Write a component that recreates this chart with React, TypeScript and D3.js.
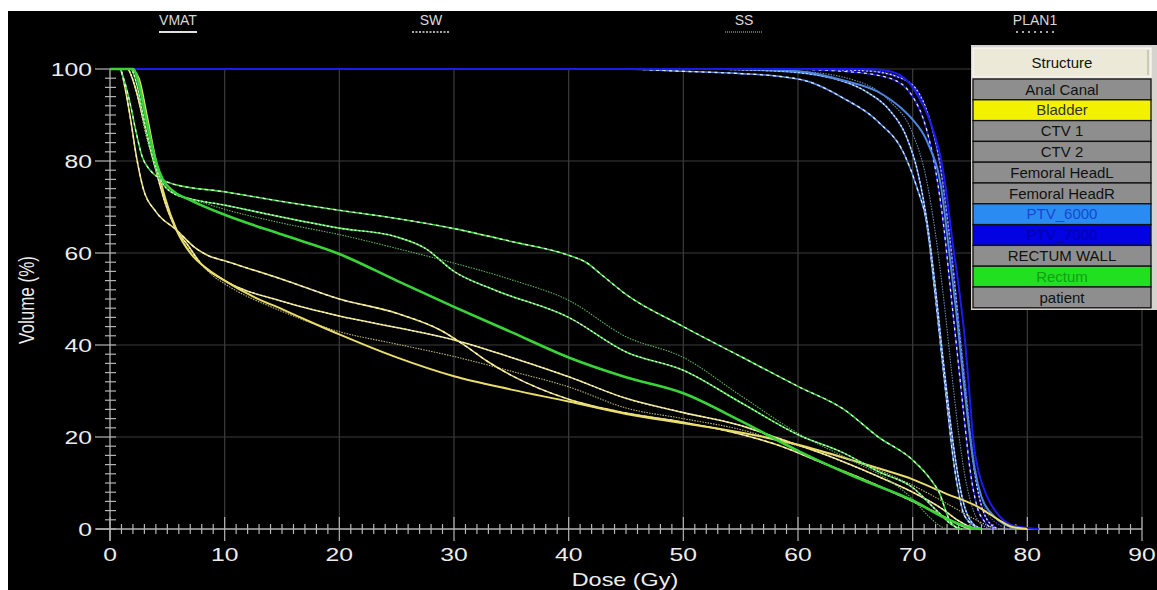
import React from 'react';
import * as d3 from 'd3';

// axis ticks
const doseTicks = [0, 10, 20, 30, 40, 50, 60, 70, 80, 90];
const volumeTicks = [0, 20, 40, 60, 80, 100];

// plans shown in the header
const plans = ['VMAT', 'SW', 'SS', 'PLAN1'];

// structure table rows
const structureRows = [
  'Anal Canal', 'Bladder', 'CTV 1', 'CTV 2', 'Femoral HeadL', 'Femoral HeadR',
  'PTV_6000', 'PTV_7000', 'RECTUM WALL', 'Rectum', 'patient',
];

// DVH curves, [dose Gy, volume %]
const bladderVmat = [[0, 100], [1.8, 100], [2.5, 98], [3.2, 90], [4, 80], [4.8, 72], [5.8, 65], [7, 60], [8.5, 56.5], [10, 54], [12.5, 50.5], [15, 47.8], [17.5, 45], [20, 42.3], [25, 37.3], [30, 33.2], [35, 30.3], [40, 27.7], [45, 25], [50, 23], [55, 21], [60, 18.3], [64, 15.5], [67, 13.2], [70, 10.8], [72.8, 7.8], [75.7, 4.8], [77.5, 2], [78.5, 0.6], [80, 0]];
const bladderSw = [[0, 100], [1.5, 100], [2.2, 96], [3, 88], [3.8, 80], [4.8, 71], [5.8, 65], [6.7, 62], [8, 57.5], [10, 54], [15, 49.5], [20, 46.3], [25, 43.8], [30, 41.1], [35, 37.3], [40, 33.1], [45, 28.4], [50, 25.3], [55, 22.5], [58.3, 19.7], [62, 16.5], [67, 11.4], [70, 8], [72.5, 4.5], [74, 1.8], [75.2, 0.3], [76, 0]];
const bladderSs = [[0, 100], [1.5, 100], [2.3, 95], [3.1, 86], [4, 78], [5, 70], [6, 64], [7.5, 59], [9, 55], [10, 53.3], [15, 47.3], [20, 42.9], [25, 40.2], [30, 37.5], [35, 34.3], [40, 30.9], [45, 26.3], [50, 24], [55, 21.6], [58.3, 19.2], [62, 16.8], [67, 12.8], [70, 9.5], [73, 5.5], [75, 2.7], [76.5, 0.8], [77.5, 0]];
const bladderPlan1 = [[0, 100], [0.9, 100], [1.3, 96], [1.8, 89], [2.3, 81], [2.9, 74], [4, 69], [5.8, 65], [7.5, 61], [8.5, 59.5], [10, 58.3], [15, 54.3], [20, 50], [25, 46.9], [29, 43], [31, 39.8], [33, 36.3], [35, 33.4], [40, 28.2], [45, 25.2], [50, 23.2], [55, 20.6], [58.3, 18.2], [62, 14.5], [66, 10.5], [70, 6], [72.5, 3], [74, 1], [75, 0]];

const rectumVmat = [[0, 100], [2, 100], [2.5, 97], [3, 91], [3.5, 85], [4, 80], [4.6, 76], [5.5, 73.5], [7, 71.5], [10, 68.3], [15, 64], [20, 59.8], [25, 54], [30, 48.3], [35, 42.8], [40, 37.3], [45, 33], [50, 29.5], [55, 23.5], [60, 17], [65, 11.3], [70, 6.2], [73, 2.2], [75, 0.3], [76, 0]];
const rectumSw = [[0, 100], [1.8, 100], [2.3, 97], [2.8, 91], [3.3, 85], [3.8, 80], [4.4, 76], [5.5, 73], [7, 71.8], [10, 70.4], [15, 67.8], [20, 65.4], [25, 63.5], [27.5, 61], [30, 56], [33.5, 52], [40, 46], [45, 38.5], [50, 34.5], [55, 27.5], [60, 20.5], [64, 16.5], [67, 12.5], [70, 9], [72.3, 3.5], [73.5, 0.8], [74.3, 0]];
const rectumSs = [[0, 100], [1.8, 100], [2.3, 97], [2.9, 90], [3.4, 84], [4, 78], [4.8, 74.5], [6, 72.5], [8, 71], [10, 69.5], [15, 66.5], [20, 64], [25, 61], [30, 57.8], [35, 54.2], [40, 49.7], [45, 41.8], [50, 37.3], [55, 29], [60, 20.8], [65, 14.5], [68, 10.5], [70, 6.5], [71.5, 2.5], [72.5, 0.5], [73, 0]];
const rectumPlan1 = [[0, 100], [0.8, 100], [1.3, 97], [1.8, 92], [2.3, 86], [2.8, 81], [3.5, 78], [4.5, 76], [5.5, 75], [10, 73.3], [15, 71.2], [20, 69.3], [25, 67.5], [30, 65.3], [35, 62.5], [40, 59.5], [41.5, 58], [43, 55], [45, 51], [50, 44], [55, 37.5], [60, 31], [64, 26], [67, 20], [70, 15], [71.5, 11], [72.3, 8], [73.2, 2], [74, 0]];

const ptv6000Vmat = [[0, 100], [55, 100], [60, 99.5], [64, 97.5], [67, 95], [69, 91.5], [70, 89], [71.3, 84], [72.5, 74], [73.2, 60], [73.9, 45], [74.4, 33], [74.9, 22], [75.4, 13], [76, 7], [77, 3], [78, 1], [79.5, 0]];
const ptv6000Sw = [[0, 100], [50, 100], [58, 99.6], [63, 98], [66, 95], [68, 91], [69.5, 85], [70.5, 77], [71.3, 66], [72, 52], [72.6, 38], [73.2, 25], [73.8, 14], [74.4, 6], [75, 2], [76, 0]];
const ptv6000Ss = [[0, 100], [52, 100], [60, 99.5], [65, 97.5], [68, 93], [70, 86], [71.2, 76], [72, 64], [72.8, 48], [73.4, 34], [74, 21], [74.6, 11], [75.3, 4], [76, 1], [77, 0]];
const ptv6000Plan1 = [[0, 100], [44, 100], [50, 99.5], [55, 99], [58, 98.5], [61, 97.2], [64, 93.6], [67, 88.5], [69.3, 81.3], [70.4, 74], [71.2, 66.8], [71.9, 52.3], [72.5, 38.5], [73, 27], [73.5, 16], [74, 8], [74.5, 3], [75.5, 0.5], [76, 0]];

const ptv7000Vmat = [[0, 100], [66, 100], [68, 99.5], [69.5, 97.5], [70.5, 94], [71.3, 90], [72, 85], [72.5, 80], [73, 72], [73.5, 62], [74, 53], [74.6, 40], [75, 28], [75.3, 19], [75.8, 12], [76.5, 7], [77.5, 3], [78.5, 1], [80, 0.2], [81, 0]];
const ptv7000Sw = [[0, 100], [60, 100], [66, 99.6], [69, 98], [70.6, 94.5], [71.6, 88], [72.4, 79], [73, 68], [73.6, 55], [74.1, 42], [74.7, 28], [75.2, 16], [75.8, 7], [76.5, 2], [77.5, 0]];
const ptv7000Ss = [[0, 100], [62, 100], [67, 99.5], [69.7, 97], [71, 92], [72, 84], [72.8, 72], [73.4, 60], [74, 46], [74.6, 32], [75.1, 20], [75.7, 10], [76.4, 4], [77.5, 1], [78.5, 0]];
const ptv7000Plan1 = [[0, 100], [58, 100], [64, 99.5], [68, 98], [70, 94], [71.2, 87], [72, 78], [72.7, 66], [73.3, 52], [73.9, 38], [74.5, 24], [75, 13], [75.6, 5], [76.3, 1.5], [77, 0]];

const series = [
  { structure: 'PTV_6000', plan: 'PLAN1', values: ptv6000Plan1 },
  { structure: 'PTV_6000', plan: 'SW', values: ptv6000Sw },
  { structure: 'PTV_6000', plan: 'SS', values: ptv6000Ss },
  { structure: 'PTV_7000', plan: 'PLAN1', values: ptv7000Plan1 },
  { structure: 'PTV_7000', plan: 'SW', values: ptv7000Sw },
  { structure: 'PTV_7000', plan: 'SS', values: ptv7000Ss },
  { structure: 'PTV_6000', plan: 'VMAT', values: ptv6000Vmat },
  { structure: 'PTV_7000', plan: 'VMAT', values: ptv7000Vmat },
  { structure: 'Bladder', plan: 'SS', values: bladderSs },
  { structure: 'Bladder', plan: 'SW', values: bladderSw },
  { structure: 'Bladder', plan: 'PLAN1', values: bladderPlan1 },
  { structure: 'Bladder', plan: 'VMAT', values: bladderVmat },
  { structure: 'Rectum', plan: 'SS', values: rectumSs },
  { structure: 'Rectum', plan: 'SW', values: rectumSw },
  { structure: 'Rectum', plan: 'PLAN1', values: rectumPlan1 },
  { structure: 'Rectum', plan: 'VMAT', values: rectumVmat },
];

// look of things
const lineColor: Record<string, string> = {
  Bladder: '#e8dc6a',
  Rectum: '#3ad43a',
  PTV_6000: '#4f86e0',
  PTV_7000: '#1c1ce8',
};
const rowFill: Record<string, string> = {
  Bladder: '#f2f200',
  PTV_6000: '#2a8cf2',
  PTV_7000: '#0202e2',
  Rectum: '#20e020',
};
const rowText: Record<string, string> = {
  Bladder: '#333',
  PTV_6000: '#1848d0',
  PTV_7000: '#0000b0',
  Rectum: '#12a012',
};
const planLabelX = [178, 431, 744, 1035];
const font = 'Liberation Sans, Arial, sans-serif';
// the screenshot is a bit wider than tall, so axis text is stretched
const stretch = 1.3;

export default function App() {
  const x = d3.scaleLinear().domain([0, 90]).range([110, 1142]);
  const y = d3.scaleLinear().domain([0, 100]).range([529, 69]);

  const line = d3
    .line<number[]>()
    .x((d) => x(d[0]))
    .y((d) => y(d[1]))
    .curve(d3.curveMonotoneX);

  const minorDose = d3.range(0, 91, 1);
  const minorVol = d3.range(0, 101, 2);

  const drawCurve = (s: any, i: number) => {
    const c = lineColor[s.structure];
    const d = line(s.values) || '';
    if (s.plan === 'VMAT') {
      return (
        <path key={i} d={d} fill="none" stroke={c}
          strokeWidth={s.structure === 'Rectum' ? 2.6 : 2} />
      );
    }
    if (s.plan === 'SS') {
      const g = d3.interpolateRgb(c, '#8a8a8a')(0.45);
      return (
        <path key={i} d={d} fill="none" stroke={g} strokeWidth={1.1}
          strokeDasharray="1.5 1.2" />
      );
    }
    const dash = s.plan === 'SW' ? '2 2' : '3 3.5';
    return (
      <g key={i}>
        <path d={d} fill="none" stroke={c} strokeWidth={1.6} />
        <path d={d} fill="none" stroke="#f6f6f6" strokeWidth={1.3}
          strokeDasharray={dash} opacity={0.9} />
      </g>
    );
  };

  const rowY0 = 79;
  const rowH = 20.8;

  return (
    <svg width={1157} height={590}
      style={{ position: 'absolute', left: 0, top: 0, fontFamily: font }}>
      <rect x={0} y={0} width={1157} height={590} fill="#fff" />
      <rect x={8} y={11} width={1149} height={579} fill="#000" />

      {/* plan header */}
      {plans.map((p, i) => (
        <g key={p}>
          <text x={planLabelX[i]} y={25} fill="#d8d8d8" fontSize={14}
            textAnchor="middle">{p}</text>
          <line x1={planLabelX[i] - 19} x2={planLabelX[i] + 19} y1={32} y2={32}
            stroke={i === 2 ? '#888' : '#e0e0e0'}
            strokeWidth={i === 0 ? 2 : 1.5}
            strokeDasharray={i === 0 ? undefined : i === 1 ? '2 1.5' : i === 2 ? '1 1' : '2 4'} />
        </g>
      ))}

      {/* grid */}
      {doseTicks.slice(1).map((t) => (
        <line key={'gx' + t} x1={x(t)} x2={x(t)} y1={y(100)} y2={y(0)}
          stroke="#3c3c3c" strokeWidth={1.2} />
      ))}
      {volumeTicks.slice(1).map((t) => (
        <line key={'gy' + t} x1={x(0)} x2={x(90)} y1={y(t)} y2={y(t)}
          stroke="#3c3c3c" strokeWidth={1.2} />
      ))}

      {/* axes */}
      <line x1={x(0)} x2={x(0)} y1={y(100)} y2={y(0) + 12} stroke="#b4b4b4" strokeWidth={1.3} />
      <line x1={x(0) - 14} x2={x(90)} y1={y(0)} y2={y(0)} stroke="#b4b4b4" strokeWidth={1.3} />
      {minorVol.map((t) => (
        <line key={'my' + t} x1={x(0) - (t % 20 === 0 ? 15 : 5)} x2={x(0) + 6}
          y1={y(t)} y2={y(t)} stroke="#b4b4b4" strokeWidth={1.2} />
      ))}
      {minorDose.map((t) => (
        <line key={'mx' + t} x1={x(t)} x2={x(t)}
          y1={y(0) - (t % 10 === 0 ? 12 : 5)} y2={y(0) + (t % 10 === 0 ? 12 : 5)}
          stroke="#b4b4b4" strokeWidth={1.2} />
      ))}
      {volumeTicks.map((t) => (
        <text key={'ly' + t} transform={`translate(92,${y(t) + 7}) scale(${stretch},1)`}
          fill="#ececec" fontSize={19} textAnchor="end">{t}</text>
      ))}
      {doseTicks.map((t) => (
        <text key={'lx' + t} transform={`translate(${x(t)},561) scale(${stretch},1)`}
          fill="#ececec" fontSize={19} textAnchor="middle">{t}</text>
      ))}
      <text transform={`translate(625,586) scale(${stretch},1)`} fill="#ececec"
        fontSize={18} textAnchor="middle">Dose (Gy)</text>
      <text transform="translate(34,300) rotate(-90) scale(1,1.25)" fill="#ececec"
        fontSize={17} textAnchor="middle">Volume (%)</text>

      {/* curves */}
      {series.map(drawCurve)}

      {/* structure table */}
      <rect x={971} y={45} width={186} height={265} fill="#d6d3ce" />
      <rect x={973} y={48} width={178} height={29} fill="#ece9d8" stroke="#fff" strokeWidth={1} />
      <line x1={1148} x2={1148} y1={50} y2={75} stroke="#aca899" />
      <text x={1062} y={68} fill="#111" fontSize={15} textAnchor="middle">Structure</text>
      {structureRows.map((r, i) => (
        <g key={r}>
          <rect x={973} y={rowY0 + i * rowH} width={178} height={rowH}
            fill={rowFill[r] || '#8e8e8e'} stroke="#111" strokeWidth={1.3} />
          <text x={1062} y={rowY0 + i * rowH + 15.5} fill={rowText[r] || '#111'}
            fontSize={15} textAnchor="middle">{r}</text>
        </g>
      ))}
    </svg>
  );
}
